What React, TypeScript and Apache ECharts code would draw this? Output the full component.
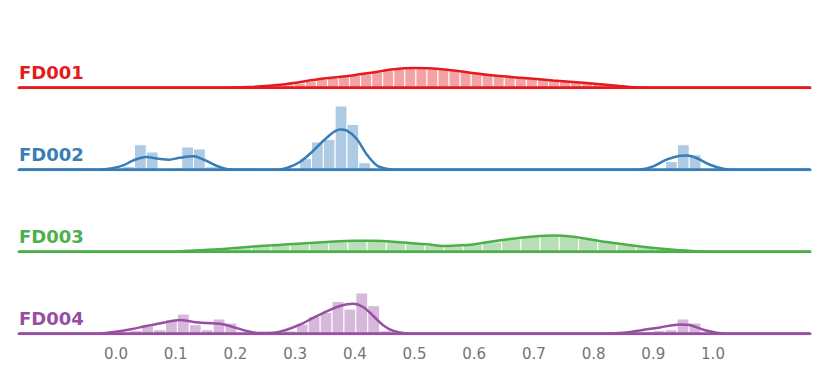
import React, { useEffect, useRef } from "react";
import * as echarts from "echarts";

// ---- data ----
const rowNames = ["FD001", "FD002", "FD003", "FD004"];
const lineColors = ["#e41a1c", "#377eb8", "#4daf4a", "#984ea3"];
const barColors = ["#f4a3a4", "#afcbe3", "#b8dfb7", "#d6b8da"];

const tickValues = [0, 0.1, 0.2, 0.3, 0.4, 0.5, 0.6, 0.7, 0.8, 0.9, 1.0];

// histogram: first bin start, bin width, densities
const binStart = [0.2617, 0.0112, 0.163, 0.0231];
const binWidth = [0.01851, 0.01977, 0.0322, 0.01993];

const histFD001 = [
  0.23, 0.43, 0.7, 1.0, 1.27, 1.47, 1.67, 1.89, 2.13, 2.36, 2.63, 2.86, 2.94, 2.94, 2.9, 2.78,
  2.63, 2.44, 2.24, 2.0, 1.85, 1.7, 1.55, 1.39, 1.27, 1.13, 0.99, 0.85, 0.71, 0.56, 0.4, 0.25,
];
const histFD002 = [
  0.51, 3.86, 2.74, 0, 0.26, 3.51, 3.2, 0.46, 0, 0, 0, 0, 0, 0, 0, 1.7, 4.28, 4.68, 9.85, 7.0,
  1.08, 0, 0, 0, 0, 0, 0, 0, 0, 0, 0, 0, 0, 0, 0, 0, 0, 0, 0, 0, 0, 0, 0, 0, 0, 0, 1.28, 3.86,
  2.32,
];
const histFD003 = [
  0.38, 0.62, 0.85, 1.05, 1.22, 1.4, 1.55, 1.62, 1.6, 1.48, 1.28, 1.0, 0.88, 1.08, 1.5, 1.95,
  2.3, 2.45, 2.35, 2.0, 1.5, 1.05, 0.7, 0.4,
];
const histFD004 = [
  0.51, 1.39, 0.62, 2.21, 3.04, 1.39, 0.62, 2.27, 1.65, 0, 0, 0, 0, 0.42, 1.5, 2.67, 3.29, 4.99,
  3.82, 6.29, 4.33, 0.46, 0, 0, 0, 0, 0, 0, 0, 0, 0, 0, 0, 0, 0, 0, 0, 0, 0, 0, 0, 0, 0, 0.36,
  0.51, 0.62, 2.27, 1.65,
];

// KDE curves: [x, density]
const kdeFD001 = [
  [-0.1625, 0], [0.17, 0], [0.224, 0.11], [0.28, 0.51], [0.336, 1.25], [0.392, 1.85],
  [0.43, 2.35], [0.465, 2.85], [0.5, 3.05], [0.53, 2.98], [0.565, 2.67], [0.621, 2.01],
  [0.677, 1.55], [0.732, 1.13], [0.788, 0.73], [0.844, 0.26], [0.88, 0.03], [0.93, 0], [1.1625, 0],
];
const kdeFD002 = [
  [-0.1625, 0], [-0.03, 0], [-0.004, 0.26], [0.012, 0.66], [0.029, 1.44], [0.051, 1.96],
  [0.071, 1.7], [0.089, 1.55], [0.107, 1.85], [0.13, 2.06], [0.146, 1.59], [0.169, 0.57],
  [0.185, 0.11], [0.202, 0], [0.27, 0], [0.286, 0.26], [0.308, 1.19], [0.33, 2.89],
  [0.353, 4.95], [0.375, 6.23], [0.386, 6.07], [0.403, 4.79], [0.42, 2.36], [0.437, 0.66],
  [0.453, 0.15], [0.47, 0], [0.86, 0], [0.878, 0.05], [0.9, 0.51], [0.922, 1.55], [0.945, 2.16],
  [0.956, 2.21], [0.972, 1.81], [0.995, 0.77], [1.017, 0.15], [1.034, 0], [1.1625, 0],
];
const kdeFD003 = [
  [-0.1625, 0], [0.07, 0], [0.11, 0.05], [0.13, 0.2], [0.185, 0.46], [0.241, 0.88],
  [0.297, 1.19], [0.353, 1.5], [0.397, 1.7], [0.43, 1.68], [0.464, 1.55], [0.52, 1.15],
  [0.55, 0.88], [0.58, 0.98], [0.598, 1.13], [0.654, 1.9], [0.71, 2.43], [0.733, 2.52],
  [0.766, 2.32], [0.822, 1.5], [0.878, 0.82], [0.934, 0.31], [0.978, 0.05], [1.0, 0], [1.1625, 0],
];
const kdeFD004 = [
  [-0.1625, 0], [-0.06, 0], [-0.027, 0.05], [-0.004, 0.26], [0.023, 0.66], [0.051, 1.19],
  [0.079, 1.7], [0.107, 2.12], [0.13, 1.81], [0.152, 1.65], [0.174, 1.55], [0.196, 1.04],
  [0.219, 0.42], [0.241, 0.11], [0.264, 0.15], [0.286, 0.62], [0.308, 1.39], [0.33, 2.43],
  [0.353, 3.45], [0.375, 4.28], [0.397, 4.64], [0.414, 4.13], [0.431, 2.74], [0.448, 1.28],
  [0.465, 0.42], [0.487, 0.05], [0.51, 0], [0.8, 0], [0.844, 0.11], [0.878, 0.51], [0.911, 0.97],
  [0.945, 1.44], [0.961, 1.34], [0.984, 0.62], [1.006, 0.15], [1.028, 0], [1.1625, 0],
];

const hists = [histFD001, histFD002, histFD003, histFD004];
const kdes = [kdeFD001, kdeFD002, kdeFD003, kdeFD004];

const X_MIN = -0.1625;
const X_MAX = 1.1625;

export default function App() {
  const ref = useRef<HTMLDivElement>(null);

  useEffect(() => {
    if (!ref.current) return;
    const chart = echarts.init(ref.current, undefined, { renderer: "svg" });

    const gridH = 80;
    const yMax = gridH / 6.47;
    const baselines = [87.7, 169.7, 251.7, 333.7];

    const grids: any[] = [];
    const xAxes: any[] = [];
    const yAxes: any[] = [];
    const series: any[] = [];
    const graphics: any[] = [];

    rowNames.forEach((name, i) => {
      const base = baselines[i];
      grids.push({ left: 19, width: 791, top: base - gridH, height: gridH });
      const isLast = i === rowNames.length - 1;
      xAxes.push({
        type: "value",
        gridIndex: i,
        min: X_MIN,
        max: X_MAX,
        axisLine: { show: false },
        axisTick: { show: false },
        splitLine: { show: false },
        axisLabel: {
          show: isLast,
          customValues: tickValues,
          formatter: (v: number) => v.toFixed(1),
          color: "#747474",
          fontSize: 15,
          fontFamily: "DejaVu Sans",
          margin: 13,
        },
      });
      yAxes.push({
        type: "value",
        gridIndex: i,
        min: 0,
        max: yMax,
        show: false,
      });

      const bars = hists[i].map((h, k) => [
        binStart[i] + binWidth[i] * k,
        binStart[i] + binWidth[i] * (k + 1),
        h,
      ]);
      const fill = barColors[i];
      series.push({
        type: "custom",
        xAxisIndex: i,
        yAxisIndex: i,
        data: bars,
        z: 1,
        renderItem: (_p: any, api: any) => {
          const h = api.value(2);
          if (!h) return null;
          const p0 = api.coord([api.value(0), h]);
          const p1 = api.coord([api.value(1), 0]);
          return {
            type: "rect",
            shape: { x: p0[0], y: p0[1], width: p1[0] - p0[0], height: p1[1] - p0[1] },
            style: { fill, stroke: "#ffffff", lineWidth: 1 },
          };
        },
      });
      series.push({
        type: "line",
        xAxisIndex: i,
        yAxisIndex: i,
        data: kdes[i],
        smooth: 0.35,
        showSymbol: false,
        lineStyle: { color: lineColors[i], width: 2.5 },
        z: 3,
      });
      series.push({
        type: "line",
        xAxisIndex: i,
        yAxisIndex: i,
        data: [
          [X_MIN, 0],
          [X_MAX, 0],
        ],
        showSymbol: false,
        lineStyle: { color: lineColors[i], width: 3, cap: "round" },
        z: 4,
      });
      graphics.push({
        type: "text",
        x: 19,
        y: base - 15,
        style: {
          text: name,
          fill: lineColors[i],
          font: "bold 18px 'DejaVu Sans'",
          textVerticalAlign: "middle",
          verticalAlign: "middle",
        },
      });
    });

    chart.setOption({
      animation: false,
      backgroundColor: "#ffffff",
      grid: grids,
      xAxis: xAxes,
      yAxis: yAxes,
      series,
      graphic: graphics,
    });

    return () => chart.dispose();
  }, []);

  return (
    <div
      ref={ref}
      style={{ position: "fixed", left: 0, top: 0, width: 830, height: 377 }}
    />
  );
}
